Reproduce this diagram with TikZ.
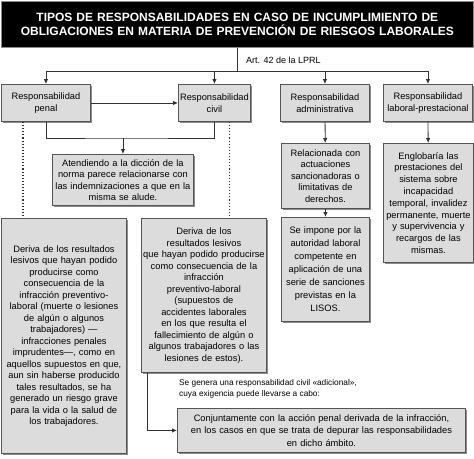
\documentclass[tikz,border=0pt]{standalone}
\usepackage{fontspec}
\setmainfont{Liberation Sans}
\usetikzlibrary{arrows.meta,shadows}
\definecolor{boxfill}{RGB}{220,220,220}
\definecolor{boxline}{RGB}{85,85,85}
\definecolor{shade}{RGB}{140,140,140}
\definecolor{wire}{RGB}{50,50,50}

\tikzset{
  box/.style={draw=boxline, line width=0.9pt, fill=boxfill, align=center, anchor=north west,
    inner xsep=2pt, inner ysep=1pt, font={\fontsize{9.3}{11.5}\selectfont},
    drop shadow={shadow xshift=2pt, shadow yshift=-2pt, fill=shade, opacity=1}},
  titlebox/.style={draw=shade, line width=1pt, fill=black, text=white, align=center, anchor=north west,
    font={\fontsize{12}{14}\bfseries\selectfont}},
  note/.style={inner sep=0pt, font={\fontsize{8.3}{11}\selectfont}},
  wire/.style={draw=wire, line width=0.8pt},
  arr/.style={wire, -{Latex[length=5pt,width=4.5pt]}},
  dots/.style={draw=wire, line width=1.1pt, dotted}
}

\begin{document}
\begin{tikzpicture}[x=1pt,y=1pt,yscale=-1,xscale=1]
\useasboundingbox (0,0) rectangle (474,458);

% Title
\node[titlebox, minimum width=472pt, minimum height=46pt, text width=466pt] (title) at (0.5,1)
  {TIPOS DE RESPONSABILIDADES EN CASO DE INCUMPLIMIENTO DE\\OBLIGACIONES EN MATERIA DE PREVENCIÓN DE RIESGOS LABORALES};

% First row
\node[box, minimum width=89pt, minimum height=37pt, text width=85pt] (penal) at (1,84) {Responsabilidad\\penal};
\node[box, minimum width=72pt, minimum height=37pt, text width=70pt, inner xsep=1pt] (civil) at (178,84) {Responsabilidad\\civil};
\node[box, minimum width=89pt, minimum height=37pt, text width=85pt] (admin) at (280,84) {Responsabilidad\\administrativa};
\node[box, minimum width=89pt, minimum height=37pt, text width=85pt] (laboral) at (383,84) {Responsabilidad\\laboral-prestacional};

% Text Node
\node[note, anchor=west, font={\fontsize{9}{11}\selectfont}] (art) at (246,60) {Art. 42 de la LPRL};

% Second level
\node[box, minimum width=141pt, minimum height=51pt, text width=137pt] (atend) at (52,154)
  {Atendiendo a la dicción de la\\norma parece relacionarse con\\las indemnizaciones a que en la\\misma se alude.};
\node[box, minimum width=88pt, minimum height=65pt, text width=84pt] (rel) at (281,143)
  {Relacionada con\\actuaciones\\sancionadoras o\\limitativas de\\derechos.};
\node[box, minimum width=88pt, minimum height=104pt, text width=84pt, font={\fontsize{9.3}{13}\selectfont}] (imp) at (281,217)
  {Se impone por la\\autoridad laboral\\competente en\\aplicación de una\\serie de sanciones\\previstas en la\\LISOS.};
\node[box, minimum width=90pt, minimum height=119pt, text width=86pt, font={\fontsize{9.3}{11.8}\selectfont}] (eng) at (383,143)
  {Englobaría las\\prestaciones del\\sistema sobre\\incapacidad\\temporal, invalidez\\permanente, muerte\\y supervivencia y\\recargos de las\\mismas.};

% Derived boxes
\node[box, minimum width=125pt, minimum height=235pt, text width=121pt] (pder) at (1,218)
  {Deriva de los resultados\\lesivos que hayan podido\\producirse como\\consecuencia de la\\infracción preventivo-\\laboral (muerte o lesiones\\de algún o algunos\\trabajadores) —\\infracciones penales\\imprudentes—, como en\\aquellos supuestos en que,\\aun sin haberse producido\\tales resultados, se ha\\generado un riesgo grave\\para la vida o la salud de\\los trabajadores.};
\node[box, minimum width=125pt, minimum height=154pt, text width=123pt, inner xsep=1pt] (cder) at (141,218)
  {Deriva de los\\resultados lesivos\\que hayan podido producirse\\como consecuencia de la\\infracción\\preventivo-laboral\\(supuestos de\\accidentes laborales\\en los que resulta el\\fallecimiento de algún o\\algunos trabajadores o las\\lesiones de estos).};

% Text Node
\node[note, anchor=north west, align=left] (extra) at (179,379)
  {Se genera una responsabilidad civil «adicional»,\\cuya exigencia puede llevarse a cabo:};

\node[box, minimum width=288pt, minimum height=44pt, text width=284pt, font={\fontsize{9.3}{12.2}\selectfont}] (conj) at (177,408)
  {Conjuntamente con la acción penal derivada de la infracción,\\en los casos en que se trata de depurar las responsabilidades\\en dicho ámbito.};

% Connectors
\coordinate (bus) at (236.5,71);
\draw[wire] (title.south) -- (title.south |- bus);
\draw[wire] (penal.north |- bus) -- (laboral.north |- bus);
\foreach \n in {penal,civil,admin,laboral}
  \draw[arr] (\n.north |- bus) -- (\n.north);

\draw[arr] (penal) -- (civil);
\path (atend.north) ++(0,-16) coordinate (join);
\draw[wire] (penal.south) |- (join) -| (civil.south);
\draw[arr] (join) -- (atend);

\coordinate (pdot) at ([xshift=22pt]penal.south west);
\coordinate (cdot) at ([xshift=-21pt]civil.south east);
\draw[dots] (pdot) -- (pdot |- pder.north);
\draw[dots] (cdot) -- (cdot |- cder.north);

\draw[arr] (admin) -- (rel);
\draw[arr] (rel) -- (imp);
\draw[arr] (laboral) -- (eng);

\coordinate (cout) at ([xshift=6pt]cder.south west);
\draw[arr] (cout) |- (conj.west);

\end{tikzpicture}
\end{document}
